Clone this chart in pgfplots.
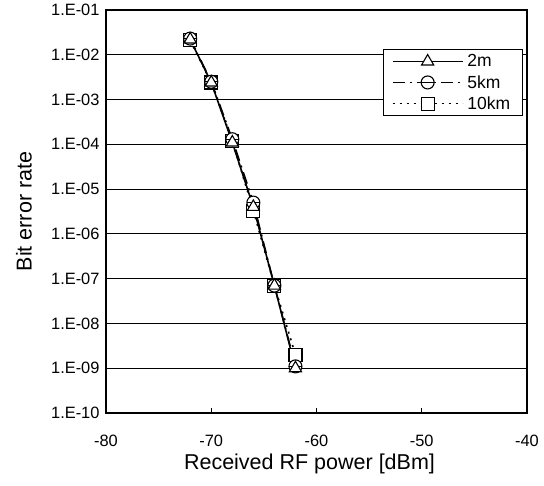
\documentclass[border=0pt]{standalone}
\usepackage{pgfplots}
\pgfplotsset{compat=1.18}
\usepackage{fontspec}
\setmainfont{Liberation Sans}

% open circle with a bar across it
\pgfdeclareplotmark{barcirc}{%
  \pgfpathcircle{\pgfpointorigin}{\pgfplotmarksize}%
  \pgfusepathqfillstroke
  \pgfpathmoveto{\pgfqpoint{-\pgfplotmarksize}{0pt}}%
  \pgfpathlineto{\pgfqpoint{\pgfplotmarksize}{0pt}}%
  \pgfusepathqstroke}

\begin{document}
\begin{tikzpicture}
\begin{axis}[
  name=ber,
  scale only axis,
  width=421pt, height=403pt,
  xmin=-80, xmax=-40,
  ymode=log, ymin=1e-10, ymax=1e-1,
  xtick={-80,-70,-60,-50,-40},
  xticklabels={-80,-70,-60,-50,-40},
  ytick={1e-10,1e-9,1e-8,1e-7,1e-6,1e-5,1e-4,1e-3,1e-2,1e-1},
  yticklabels={1.E-10,1.E-09,1.E-08,1.E-07,1.E-06,1.E-05,1.E-04,1.E-03,1.E-02,1.E-01},
  minor ytick={},
  xtick pos=bottom, xtick align=inside,
  major tick length=5pt,
  ytick style={draw=none},
  xtick style={line width=1.1pt, black},
  ymajorgrids,
  grid style={black, line width=1.2pt},
  axis line style={line width=1.3pt},
  tick label style={font=\fontsize{16.4}{18}\selectfont},
  xticklabel style={yshift=-19pt},
  yticklabel style={xshift=-3pt},
  xlabel={Received RF power [dBm]},
  ylabel={Bit error rate},
  every axis x label/.style={at={(axis description cs:0.5,0)},
    anchor=base, xshift=-7pt, yshift=-56pt,
    font=\fontsize{21.5}{24}\selectfont},
  every axis y label/.style={at={(axis description cs:0,0.5)},
    xshift=-82pt, rotate=90, anchor=center,
    font=\fontsize{21.5}{24}\selectfont},
  legend style={at={(0.99,0.903)}, anchor=north east,
    font=\fontsize{17.5}{19}\selectfont, draw=black, line width=1.1pt,
    row sep=3pt, inner xsep=8pt, inner ysep=3pt,
    nodes={inner xsep=4pt}},
  legend cell align=left,
  reverse legend,
  legend image code/.code={%
    \draw[mark repeat=2, mark phase=2, #1]
      plot coordinates {(0pt,0pt) (35pt,0pt) (70pt,0pt)};},
  every axis plot/.append style={black, line width=1.6pt,
    mark size=6.5pt, mark options={fill=white, solid, line width=1.1pt}},
]
\addplot[dash pattern=on 2pt off 5pt, mark=square*] coordinates {
  (-72,2.1e-2) (-70,2.4e-3) (-68,1.2e-4) (-66,3.3e-6) (-64,7e-8) (-62,2e-9)};
\addlegendentry{10km}
\addplot[dash pattern=on 12pt off 5pt on 2pt off 5pt, mark=barcirc] coordinates {
  (-72,2.3e-2) (-70,2.5e-3) (-68,1.3e-4) (-66,5e-6) (-64,7e-8) (-62,1.1e-9)};
\addlegendentry{5km}
\addplot[solid, mark=triangle*, mark size=7pt] coordinates {
  (-72,2.2e-2) (-70,2.4e-3) (-68,1.1e-4) (-66,4e-6) (-64,7e-8) (-62,1e-9)};
\addlegendentry{2m}
\end{axis}
\path (ber.south west) ++(-106pt,-72pt) rectangle ([xshift=17pt,yshift=10pt]ber.north east);
\end{tikzpicture}
\end{document}
